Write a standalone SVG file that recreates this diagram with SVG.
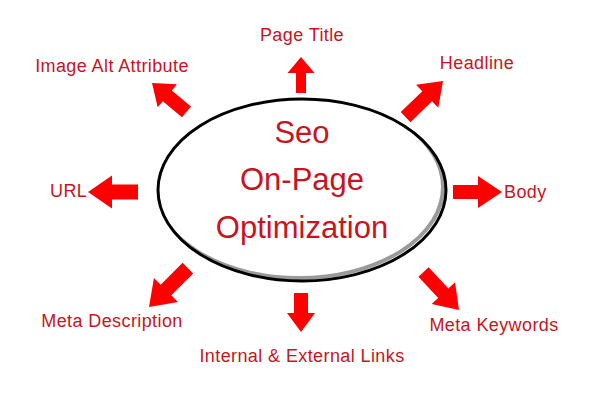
<svg xmlns="http://www.w3.org/2000/svg" width="600" height="400" viewBox="0 0 600 400">
<style>
.lbl{font-family:"Liberation Sans",Arial,sans-serif;font-size:18px;letter-spacing:0.4px;fill:#c8141e}
.ctr{font-family:"Liberation Sans",Arial,sans-serif;font-size:31px;fill:#c8141e;text-anchor:middle}
.arr{fill:#ff0000}
</style>
<defs>
<clipPath id="ec"><ellipse cx="302" cy="190" rx="144" ry="91"/></clipPath>
</defs>
<rect width="600" height="400" fill="#ffffff"/>
<g id="center">
<ellipse cx="302" cy="190" rx="144" ry="91" fill="#ffffff"/>
<ellipse cx="299" cy="187" rx="144" ry="91" fill="none" stroke="#9a9a9a" stroke-width="4" clip-path="url(#ec)"/>
<ellipse cx="302" cy="190" rx="144" ry="91" fill="none" stroke="#000000" stroke-width="3"/>
<text class="ctr" x="302" y="143">Seo</text>
<text class="ctr" x="302" y="190">On-Page</text>
<text class="ctr" x="302" y="238">Optimization</text>
</g>
<g id="connectors">
<path class="arr" transform="translate(301,57) rotate(-90)" d="M0,0 L-16,-13.5 L-16,-5 L-36,-5 L-36,5 L-16,5 L-16,13.5 Z"/>
<path class="arr" transform="translate(152,83) rotate(220)" d="M0,0 L-20,-15 L-20,-7 L-45,-7 L-45,7 L-20,7 L-20,15 Z"/>
<path class="arr" transform="translate(443,81) rotate(-44)" d="M0,0 L-22,-16 L-22,-7 L-52,-7 L-52,7 L-22,7 L-22,16 Z"/>
<path class="arr" transform="translate(88,192) rotate(180)" d="M0,0 L-24,-16.5 L-24,-7.5 L-50,-7.5 L-50,7.5 L-24,7.5 L-24,16.5 Z"/>
<path class="arr" transform="translate(502,192)" d="M0,0 L-24,-16 L-24,-7 L-49,-7 L-49,7 L-24,7 L-24,16 Z"/>
<path class="arr" transform="translate(149,307) rotate(135)" d="M0,0 L-24,-17 L-24,-7.5 L-55,-7.5 L-55,7.5 L-24,7.5 L-24,17 Z"/>
<path class="arr" transform="translate(301,332) rotate(90)" d="M0,0 L-19,-14 L-19,-7 L-39,-7 L-39,7 L-19,7 L-19,14 Z"/>
<path class="arr" transform="translate(459,310) rotate(47)" d="M0,0 L-23,-16 L-23,-7 L-52,-7 L-52,7 L-23,7 L-23,16 Z"/>
</g>
<g id="page-title"><text class="lbl" x="302" y="41" text-anchor="middle">Page Title</text></g>
<g id="image-alt"><text class="lbl" x="112" y="72" text-anchor="middle">Image Alt Attribute</text></g>
<g id="headline"><text class="lbl" x="477" y="69" text-anchor="middle">Headline</text></g>
<g id="url"><text class="lbl" x="50" y="197">URL</text></g>
<g id="body"><text class="lbl" x="504" y="198">Body</text></g>
<g id="meta-description"><text class="lbl" x="112" y="327" text-anchor="middle">Meta Description</text></g>
<g id="links"><text class="lbl" x="302" y="362" text-anchor="middle">Internal &amp; External Links</text></g>
<g id="meta-keywords"><text class="lbl" x="494" y="331" text-anchor="middle">Meta Keywords</text></g>
</svg>
